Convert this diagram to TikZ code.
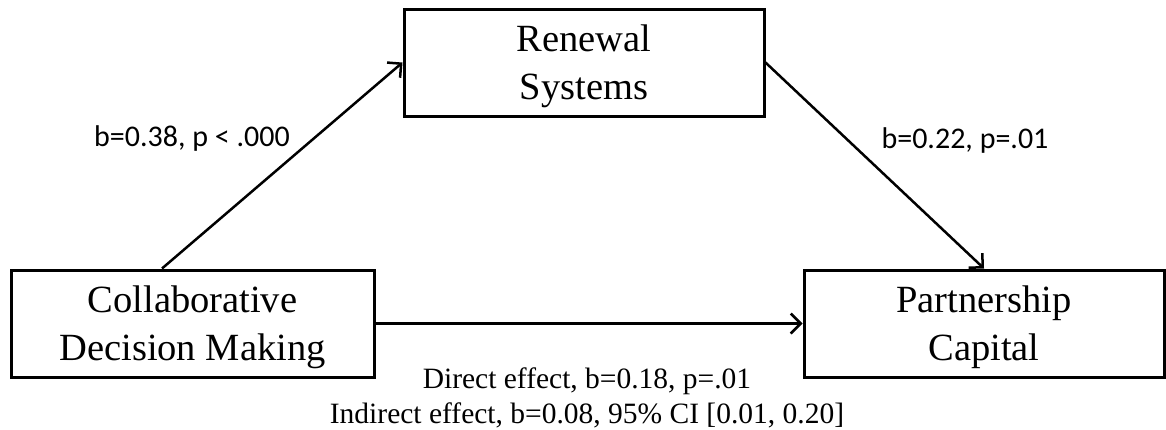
\documentclass[tikz,border=0pt]{standalone}
\usepackage{fontspec}
\setmainfont{Liberation Serif}
\newfontfamily\calib{Carlito}
\usetikzlibrary{arrows.meta}
\begin{document}
\begin{tikzpicture}[x=1pt,y=-1pt,
  varbox/.style={draw=black, line width=3pt, minimum width=360pt, minimum height=107pt,
    inner sep=0pt},
  boxtext/.style={align=center, inner sep=0pt, font=\fontsize{38.5}{44}\selectfont},
  path/.style={draw=black, line width=2.5pt,
    -{Straight Barb[length=10pt,width=20pt,line width=2.5pt]}},
  coef/.style={font=\calib\fontsize{30}{35}\selectfont, inner sep=0pt},
  effect/.style={font=\fontsize{29.5}{35}\selectfont, inner sep=0pt, anchor=base}]
\useasboundingbox (0,0) rectangle (1166,429);
\node[varbox, minimum width=360pt] (r) at (584,62.5) {};
\node[varbox, minimum width=363pt] (c) at (192.5,323.5) {};
\node[varbox, minimum width=360pt] (p) at (984,323.5) {};
\node[boxtext] (rt) at ([yshift=-4pt]r.center) {Renewal\\[4pt]Systems};
\node[boxtext] (ct) at ([yshift=-4pt]c.center) {Collaborative\\[4pt]Decision Making};
\node[boxtext] (pt) at ([yshift=-4pt]p.center) {Partnership\\[4pt]Capital};
\draw[path] ([xshift=-30.5pt]c.north) -- (r.west);
\draw[path] (r.east) -- (p.north);
\draw[path] (c.east) -- (p.west);
\node[coef] (l1) at (192,138) {b=0.38, p < .000};
\node[coef] (l2) at (965,140) {b=0.22, p=.01};
\node[effect] (d1) at (587,388) {Direct effect, b=0.18, p=.01};
\node[effect] (d2) at (587,423) {Indirect effect, b=0.08, 95\% CI [0.01, 0.20]};
\end{tikzpicture}
\end{document}
